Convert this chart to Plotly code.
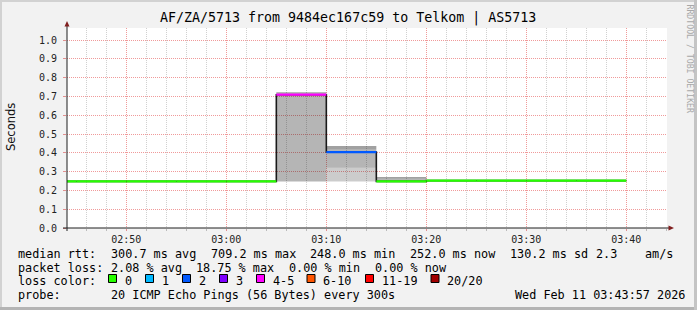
import plotly.graph_objects as go
from datetime import datetime, timedelta

# ---------------- data ----------------
DAY = "2026-02-11 "
bin_end = ["02:45", "02:50", "02:55", "03:00", "03:05", "03:10",
           "03:15", "03:20", "03:25", "03:30", "03:35", "03:40"]
median_rtt = [0.248, 0.248, 0.248, 0.248, 0.248, 0.709,
              0.404, 0.248, 0.252, 0.252, 0.252, 0.252]
loss_level = [0, 0, 0, 0, 0, 4, 2, 0, 0, 0, 0, 0]  # index into loss_labels

smoke_end = ["03:10", "03:15", "03:20"]
smoke_min = [0.248, 0.248, 0.248]
smoke_outer = [0.248, 0.320, 0.248]
smoke_inner = [0.714, 0.418, 0.262]
smoke_max = [0.722, 0.436, 0.271]

loss_labels = ["0", "1", "2", "3", "4-5", "6-10", "11-19", "20/20"]
loss_colors = ["#26ff00", "#00b8ff", "#0059ff", "#7e00ff",
               "#ff00ff", "#ff5500", "#ff0000", "#a10000"]

title_text = "AF/ZA/5713 from 9484ec167c59 to Telkom | AS5713"
rtt_stats = ["300.7 ms avg", "709.2 ms max", "248.0 ms min", "252.0 ms now", "130.2 ms sd", "2.3", "am/s"]
loss_stats = ["2.08 % avg", "18.75 % max", "0.00 % min", "0.00 % now"]
probe_text = "20 ICMP Echo Pings (56 Bytes) every 300s"
stamp_text = "Wed Feb 11 03:43:57 2026"

STEP = timedelta(seconds=300)


def t(s):
    return datetime.strptime(DAY + s, "%Y-%m-%d %H:%M")


# ---------------- geometry ----------------
W, H = 697, 310
L, R, T, B = 67, 30, 28, 82
PW, PH = W - L - R, H - T - B
MONO = "DejaVu Sans Mono"


def px(x):
    return (x - L) / PW


def py(y):
    return (H - B - y) / PH


fig = go.Figure()

# smoke bands (semi-transparent so grid shows through, like rrdtool)
bands = [(smoke_min, smoke_outer, "rgba(0,0,0,0.20)"),
         (smoke_outer, smoke_inner, "rgba(0,0,0,0.29)"),
         (smoke_inner, smoke_max, "rgba(0,0,0,0.37)")]
for lo, hi, col in bands:
    xs, ys = [], []
    for e, a, b in zip(smoke_end, lo, hi):
        te = t(e)
        ts = te - STEP
        xs += [ts, te, te, ts, ts, None]
        ys += [a, a, b, b, a, None]
    fig.add_trace(go.Scatter(x=xs, y=ys, mode="lines", fill="toself",
                             fillcolor=col, line=dict(width=0),
                             hoverinfo="skip", showlegend=False))

# black step (vertical transitions)
starts = [t(e) - STEP for e in bin_end]
fig.add_trace(go.Scatter(x=starts + [t(bin_end[-1])], y=median_rtt + [median_rtt[-1]],
                         mode="lines", line=dict(color="#1a1a1a", width=1.6, shape="hv"),
                         hoverinfo="skip", showlegend=False))

# coloured median segments per loss level
for li, col in enumerate(loss_colors):
    xs, ys = [], []
    for e, m, lv in zip(bin_end, median_rtt, loss_level):
        if lv == li:
            te = t(e)
            xs += [te - STEP, te, None]
            ys += [m, m, None]
    if xs:
        fig.add_trace(go.Scatter(x=xs, y=ys, mode="lines",
                                 line=dict(color=col, width=2.2),
                                 hoverinfo="skip", showlegend=False))

x0 = datetime(2026, 2, 11, 2, 44, 4)
x1 = x0 + timedelta(hours=1)
ymax = (H - B - T) / 188.0

fig.update_layout(
    width=W, height=H,
    margin=dict(l=L, r=R, t=T, b=B, pad=0),
    paper_bgcolor="#f2f2f2", plot_bgcolor="#ffffff",
    showlegend=False,
    xaxis=dict(range=[x0, x1], type="date", tick0=t("02:50"), dtick=600000,
               tickformat="%H:%M", showgrid=True, gridcolor="rgba(235,120,120,0.75)",
               griddash="1px,1px", gridwidth=1, zeroline=False, showline=False,
               ticks="outside", ticklen=2, tickcolor="rgba(220,100,100,0.7)",
               tickfont=dict(family=MONO, size=10, color="#222"),
               minor=dict(dtick=120000, showgrid=True, gridcolor="rgba(170,170,170,0.55)",
                          griddash="1px,1px", ticks="outside", ticklen=2,
                          tickcolor="rgba(150,150,150,0.6)")),
    yaxis=dict(range=[0, ymax], dtick=0.1, tick0=0, tickformat=".1f",
               showgrid=True, gridcolor="rgba(235,120,120,0.75)", griddash="1px,1px",
               zeroline=False, showline=False, ticks="outside", ticklen=3,
               tickcolor="rgba(220,100,100,0.7)", ticklabelstandoff=4,
               tickfont=dict(family=MONO, size=10, color="#222")),
)

shapes = []
# frame shades
shapes.append(dict(type="rect", xref="paper", yref="paper", x0=px(0), x1=px(W), y0=py(H), y1=py(0),
                   line=dict(width=0), fillcolor="rgba(0,0,0,0)", layer="below"))
shapes.append(dict(type="rect", xref="paper", yref="paper", x0=px(0), x1=px(W), y0=py(2), y1=py(0),
                   line=dict(width=0), fillcolor="#d2d2d2"))
shapes.append(dict(type="rect", xref="paper", yref="paper", x0=px(0), x1=px(2), y0=py(H), y1=py(0),
                   line=dict(width=0), fillcolor="#d2d2d2"))
shapes.append(dict(type="rect", xref="paper", yref="paper", x0=px(0), x1=px(W), y0=py(H), y1=py(H - 3),
                   line=dict(width=0), fillcolor="#b4b4b4"))
shapes.append(dict(type="rect", xref="paper", yref="paper", x0=px(W - 3), x1=px(W), y0=py(H), y1=py(0),
                   line=dict(width=0), fillcolor="#c4c4c4"))
# axes with arrows
shapes.append(dict(type="line", xref="paper", yref="paper", x0=px(63), x1=px(670), y0=0, y1=0,
                   line=dict(color="#1f1f1f", width=1)))
shapes.append(dict(type="line", xref="paper", yref="paper", x0=0, x1=0, y0=py(231), y1=py(24),
                   line=dict(color="#1f1f1f", width=1)))
shapes.append(dict(type="path", xref="paper", yref="paper",
                   path=f"M {px(668.5)} {py(225.5)} L {px(674)} {py(228)} L {px(668.5)} {py(230.5)} Z",
                   fillcolor="#801f1f", line=dict(width=0)))
shapes.append(dict(type="path", xref="paper", yref="paper",
                   path=f"M {px(64.5)} {py(26.5)} L {px(67)} {py(21)} L {px(69.5)} {py(26.5)} Z",
                   fillcolor="#801f1f", line=dict(width=0)))

annotations = []


def txt(x, y, s, size=11.8, anchor="left", color="#000", angle=0, family=MONO, yanchor="middle"):
    annotations.append(dict(xref="paper", yref="paper", x=px(x), y=py(y),
                            text=s.replace(" ", "\u00a0"), showarrow=False,
                            xanchor=anchor, yanchor=yanchor, textangle=angle,
                            font=dict(family=family, size=size, color=color)))


txt(348, 18, title_text, size=13.3, anchor="center")
txt(11, 127, "Seconds", size=11.5, anchor="center", angle=-90, family="DejaVu Sans", color="#111")
txt(689.5, 59, "RRDTOOL / TOBI OETIKER", size=8.2, anchor="center", angle=90, color="#a8a8a8")

CW = 7.13
r1, r2, r3, r4 = 254, 267.5, 281, 294.5
txt(16, r1, "median rtt:")
for s, idx in zip(rtt_stats, [13, 27, 41, 55, 69, 81, 88]):
    txt(16 + idx * CW, r1, s)
txt(16, r2, "packet loss:")
for s, idx in zip(loss_stats, [13, 25, 38, 50]):
    txt(16 + idx * CW, r2, s)
txt(16, r3, "loss color:")
box_x = [108.5, 145.5, 182.5, 219.5, 256.5, 307.0, 365.5, 431.0]
for bx, lab, col in zip(box_x, loss_labels, loss_colors):
    shapes.append(dict(type="rect", xref="paper", yref="paper", x0=px(bx), x1=px(bx + 8),
                       y0=py(282.5), y1=py(274.5), fillcolor=col, line=dict(color="#000", width=1)))
    txt(bx + 14.2, r3, lab)
txt(16, r4, "probe:")
txt(16 + 13 * CW, r4, probe_text)
txt(513.3, r4, stamp_text)

fig.update_layout(shapes=shapes, annotations=annotations)
fig.write_html("out.html")
